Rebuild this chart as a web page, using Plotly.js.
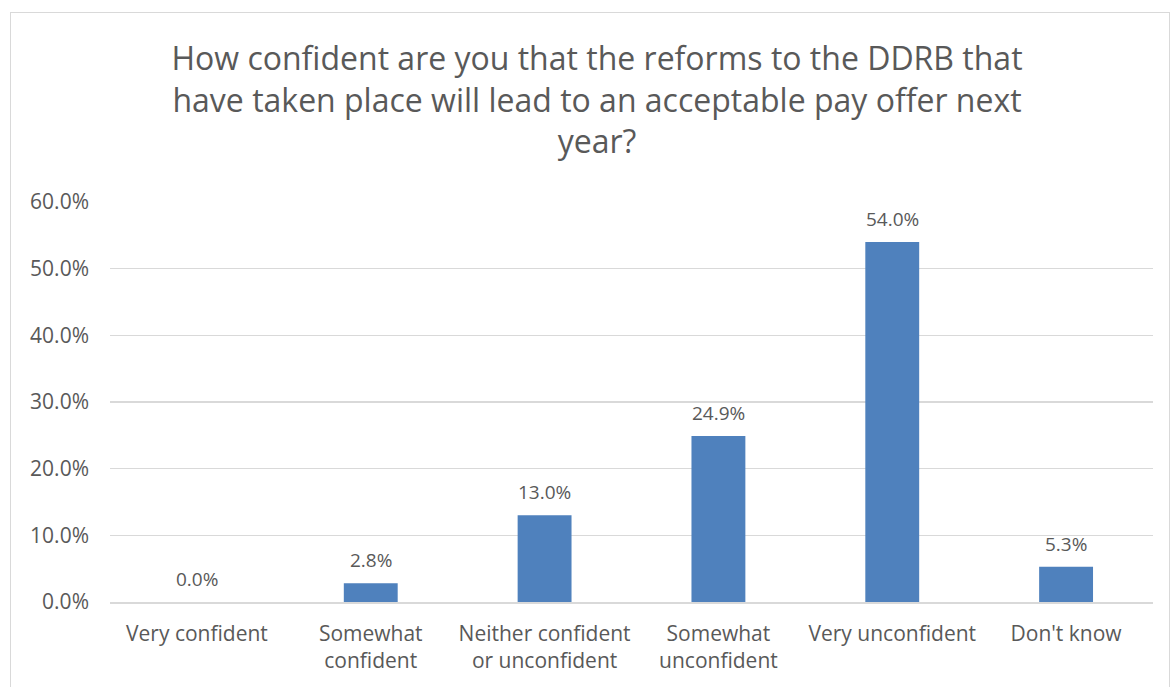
<!DOCTYPE html>
<html>
<head>
<meta charset="utf-8">
<script src="https://cdn.plot.ly/plotly-3.0.1.min.js"></script>
<style>
html,body{margin:0;padding:0;background:#fff;}
#wrap{position:relative;width:1171px;height:687px;overflow:hidden;}
#chart{width:1171px;height:687px;}
#frame{position:absolute;left:10px;top:12px;width:1158px;height:700px;border:1.5px solid #D9D9D9;pointer-events:none;}
</style>
</head>
<body>
<div id="wrap"><div id="chart"></div><div id="frame"></div></div>
<script>
const categories = ["Very confident", "Somewhat<br>confident", "Neither confident<br>or unconfident", "Somewhat<br>unconfident", "Very unconfident", "Don't know"];
const values = [0.0, 2.8, 13.0, 24.9, 54.0, 5.3];
const labels = ["0.0%", "2.8%", "13.0%", "24.9%", "54.0%", "5.3%"];
const titleText = "How confident are you that the reforms to the DDRB that<br>have taken place will lead to an acceptable pay offer next<br>year?";

const font = "Open Sans, sans-serif";
const textColor = "#595959";

const trace = {
  type: "bar",
  x: categories,
  y: values,
  marker: {color: "#4F81BD"},
  width: 0.31,
  hoverinfo: "skip"
};

const annotations = categories.map((c, i) => ({
  x: c, y: values[i], xref: "x", yref: "y",
  text: labels[i], showarrow: false,
  yanchor: "middle", yshift: 23,
  font: {family: font, size: 19, color: textColor}
}));

const layout = {
  width: 1171, height: 687,
  margin: {l: 110, r: 18, t: 202, b: 85},
  paper_bgcolor: "#fff", plot_bgcolor: "#fff",
  showlegend: false,
  title: {
    text: titleText,
    x: 597/1171, xref: "container", xanchor: "center",
    y: 1 - 70/687, yref: "container", yanchor: "top",
    font: {family: font, size: 32, color: textColor}
  },
  xaxis: {
    type: "category",
    showgrid: false,
    showline: true, linecolor: "#D9D9D9", linewidth: 1.5,
    ticks: "",
    ticklabelstandoff: 12,
    tickfont: {family: font, size: 21, color: textColor},
    fixedrange: true
  },
  yaxis: {
    range: [0, 60], dtick: 10, tick0: 0,
    tickformat: ".1f", ticksuffix: "%",
    showgrid: true, gridcolor: "#D9D9D9", gridwidth: 1.5,
    zeroline: false, showline: false, ticks: "",
    ticklabelstandoff: 20,
    tickfont: {family: font, size: 21, color: textColor},
    fixedrange: true
  },
  annotations: annotations
};

Plotly.newPlot("chart", [trace], layout, {displayModeBar: false, staticPlot: true});
</script>
</body>
</html>
